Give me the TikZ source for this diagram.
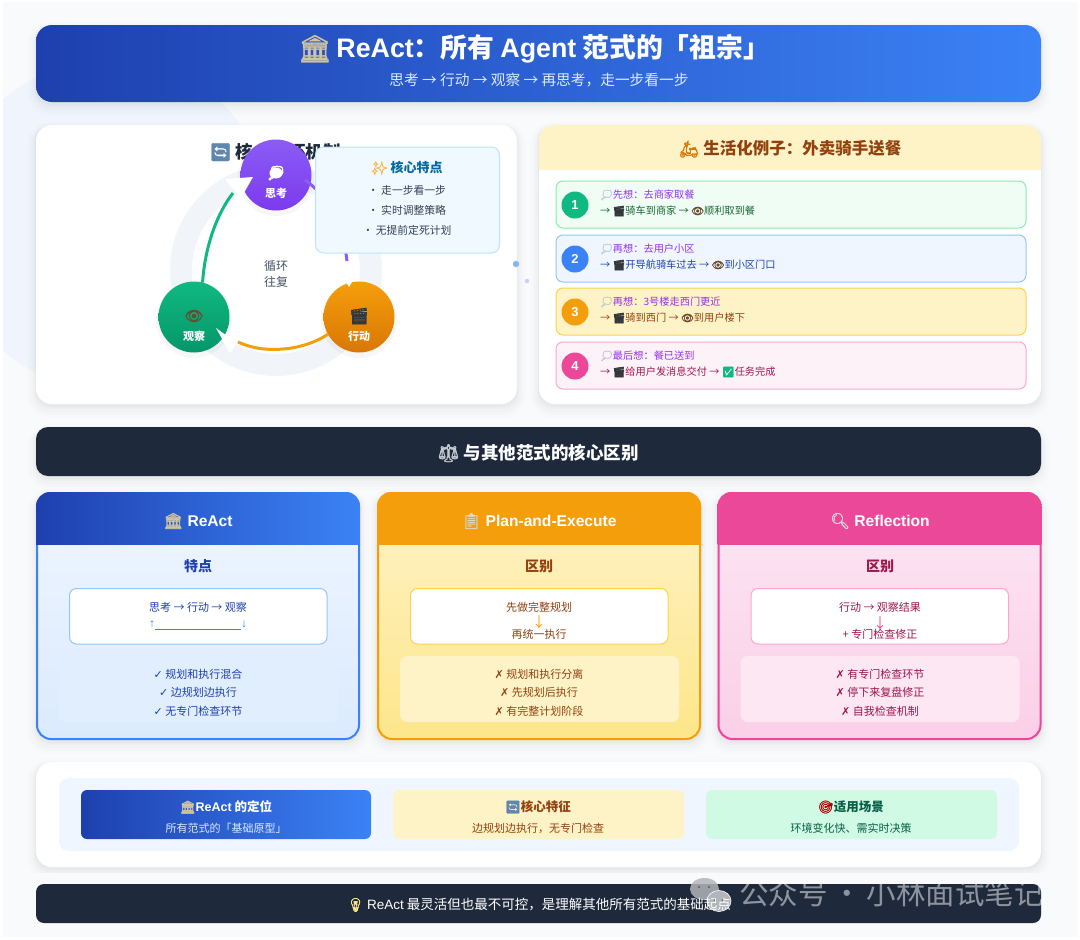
\documentclass[tikz,border=0pt]{standalone}
\usepackage{fontspec}
\setmainfont{Noto Sans CJK SC}
\newfontfamily\latf{Liberation Sans}
\newfontfamily\symf{DejaVu Sans}
\newfontfamily\emof[FakeBold=1.6]{Noto Emoji}
\newfontfamily\emofat[FakeBold=5]{Noto Emoji}
\usetikzlibrary{calc}
\definecolor{pagebg}{HTML}{F8FAFC}
\definecolor{blobbg}{HTML}{F0F5FD}
\definecolor{navy}{HTML}{1E40AF}
\definecolor{sky}{HTML}{3B82F6}
\definecolor{slatebar}{HTML}{1E293B}
\definecolor{ringgray}{HTML}{F1F5F9}
\definecolor{violetA}{HTML}{8B5CF6}
\definecolor{violetB}{HTML}{7C3AED}
\definecolor{greenA}{HTML}{10B981}
\definecolor{greenB}{HTML}{059669}
\definecolor{amberA}{HTML}{F59E0B}
\definecolor{amberB}{HTML}{D97706}
\definecolor{pinkA}{HTML}{EC4899}
\definecolor{creamA}{HTML}{FEF3C7}
\definecolor{creamB}{HTML}{FDE68A}
\definecolor{brownT}{HTML}{92400E}
\definecolor{roseT}{HTML}{9D174D}
\definecolor{roseA}{HTML}{FCE7F3}
\definecolor{roseB}{HTML}{FBCFE8}
\definecolor{iceA}{HTML}{EFF6FF}
\definecolor{iceB}{HTML}{DBEAFE}
\definecolor{edgeB}{HTML}{93C5FD}
\definecolor{edgeY}{HTML}{FCD34D}
\definecolor{edgeP}{HTML}{F9A8D4}
\definecolor{edgeG}{HTML}{86EFAC}
\definecolor{mintA}{HTML}{F0FDF4}
\definecolor{mintB}{HTML}{D1FAE5}
\definecolor{mintT}{HTML}{065F46}
\definecolor{leafT}{HTML}{166534}
\definecolor{blushA}{HTML}{FDF2F8}
\definecolor{thinkT}{HTML}{9333EA}
\definecolor{bubbleC}{HTML}{C4CAD2}
\definecolor{reelC}{HTML}{33363B}
\definecolor{eyeC}{HTML}{6B4A2B}
\definecolor{templeC}{HTML}{CFC4A0}
\definecolor{cycleC}{HTML}{5F86AE}
\definecolor{calloutF}{HTML}{F0F9FF}
\definecolor{calloutE}{HTML}{BAE6FD}
\definecolor{calloutT}{HTML}{0369A1}
\definecolor{inkT}{HTML}{334155}
\definecolor{midT}{HTML}{475569}
\definecolor{markC}{HTML}{B2B5BA}
\newcommand{\emo}[2]{{\normalfont\emof\color{#1}#2}}
\newcommand{\fsize}[1]{\fontsize{#1}{#1}\selectfont}
\def\softshadow(#1,#2)(#3,#4){
	\fill[black,opacity=.008,rounded corners=22pt] (#1-9,#2-3) rectangle (#3+9,#4+14);
	\fill[black,opacity=.010,rounded corners=20pt] (#1-6,#2-1) rectangle (#3+6,#4+11);
	\fill[black,opacity=.012,rounded corners=18pt] (#1-4,#2) rectangle (#3+4,#4+8);
	\fill[black,opacity=.016,rounded corners=16pt] (#1-2,#2+1) rectangle (#3+2,#4+5);
	\fill[black,opacity=.020,rounded corners=16pt] (#1-1,#2+1) rectangle (#3+1,#4+3);
}
\newcommand{\patterncard}[8]{
	\softshadow(#1,492)(#1+324,740)
	\shade[top color=#4,bottom color=#5,rounded corners=14pt] (#1,492) rectangle (#1+324,740);
	\draw[#6,line width=2pt,rounded corners=14pt] (#1+1,493) rectangle (#1+323,739);
	\begin{scope}
		\clip[rounded corners=14pt] (#1,492) rectangle (#1+324,740);
		\shade[left color=#2,right color=#3] (#1,492) rectangle (#1+324,544);
	\end{scope}
	\draw[#7,fill=white,line width=1pt,rounded corners=7pt] (#1+33.5,588.5) rectangle (#1+291,644);
	\fill[#8,rounded corners=7pt] (#1+23,656) rectangle (#1+302,722);
}
\newcommand{\deliverrow}[4]{
	\draw[#3,fill=#2,line width=1pt,rounded corners=7pt] (556,#1) rectangle (1026,#1+47);
	\node[numdot,fill=#4] (dot#1) at (575,#1+24) {};
}
\tikzset{
	plain/.style={inner sep=0pt,outer sep=0pt},
	stepdisc/.style={circle,minimum size=71pt,inner sep=0pt,outer sep=0pt,shading=axis},
	numdot/.style={circle,minimum size=27pt,inner sep=0pt,outer sep=0pt},
	numtext/.style={plain,text=white,font=\latf\bfseries\fsize{13}},
	steptext/.style={plain,text=white,font=\bfseries\fsize{11}},
	rowtext/.style={plain,anchor=west,font=\fsize{10.2}},
	cardtitle/.style={plain,text=white,font=\latf\bfseries\fsize{15.6}},
	cardhead/.style={plain,font=\bfseries\fsize{14}},
	cardtext/.style={plain,font=\fsize{11}},
	tailtitle/.style={plain,font=\bfseries\fsize{12.5}},
	tailtext/.style={plain,font=\fsize{11}},
}
\begin{document}
\begin{tikzpicture}[x=1pt,y=-1pt]
	\useasboundingbox (0,0) rectangle (1080,940);
	%%%%% BACKGROUND %%%%%
	\fill[white] (0,0) rectangle (1080,940);
	\begin{scope}
		\clip (3,2) rectangle (1077,936);
		\fill[pagebg] (0,0) rectangle (1080,940);
		\fill[blobbg] (110,225) circle (165);
	\end{scope}

	%%%%% HEADER %%%%%
	\softshadow(36,25)(1041,102)
	\shade[left color=navy,right color=sky,rounded corners=16pt] (36,25) rectangle (1041,102);
	\node[plain,text=white,font=\bfseries\fsize{26.8}] (maintitle) at (534,49) {\emo{templeC}{🏛}\,{\latf ReAct}：所有 {\latf Agent} 范式的「祖宗」};
	\node[plain,text=iceB,font=\fsize{14.7}] (mainsub) at (539,80) {思考 → 行动 → 观察 → 再思考，走一步看一步};

	%%%%% LOOP CARD %%%%%
	\softshadow(36,125)(517,404)
	\fill[white,rounded corners=16pt] (36,125) rectangle (517,404);
	\node[plain,text=slatebar,font=\bfseries\fsize{17.5}] (looptitle) at (275,152) {\emo{cycleC}{🔄} 核心循环机制};
	\draw[ringgray,line width=22pt] (276,270) circle (95);
	\node[plain,text=midT,font=\fsize{12}] (loopa) at (276,266) {循环};
	\node[plain,text=midT,font=\fsize{12}] (loopb) at (276,282) {往复};

	\fill[black,opacity=.03] (276,178) circle (38);
	\fill[black,opacity=.03] (194,320) circle (38);
	\fill[black,opacity=.03] (359,320) circle (38);
	\node[stepdisc,top color=violetA,bottom color=violetB] (think) at (276,175) {};
	\node[stepdisc,top color=greenA,bottom color=greenB] (observe) at (194,317) {};
	\node[stepdisc,top color=amberA,bottom color=amberB] (act) at (359,317) {};
	\fill[white] (276,173) ellipse (6.5 and 5.5);
	\node[plain,text=white,font=\emofat\fsize{14}] (thinkicon) at (276,173) {💭};
	\node[steptext] (thinklabel) at (276,193) {思考};
	\node[plain,font=\fsize{15}] (observeicon) at (194,316) {\emo{eyeC}{👁}};
	\node[steptext] (observelabel) at (194,336) {观察};
	\node[plain,font=\fsize{16}] (acticon) at (359,316) {\emo{reelC}{🎬}};
	\node[steptext] (actlabel) at (359,336) {行动};

	\coordinate (greentip) at (233,193);
	\coordinate (ambertip) at (238,342);
	\coordinate (violetstart) at (305,180);
	\coordinate (violettip) at (347,261);
	\fill[white] (225,179) -- (253,177) -- (241,198) -- cycle;
	\fill[white] (216,328) -- (237,343) -- (230,353) -- cycle;
	\fill[white] (346,282) -- (352,282) -- (349,287) -- cycle;
	\draw[greenA,line width=3pt] (observe.76) .. controls (205,245) and (218,212) .. (greentip);
	\draw[amberA,line width=3pt] (act.209) .. controls (305,350) and (265,355) .. (ambertip);
	\draw[violetA,line width=3pt] (violetstart) .. controls (330,197) and (344,232) .. (violettip);

	\draw[calloutE,fill=calloutF,line width=1pt,rounded corners=8pt] (315.5,147) rectangle (499.5,253);
	\node[plain,text=calloutT,font=\bfseries\fsize{13}] (calloutname) at (407,168) {\emo{amberA!70!white}{✨} 核心特点};
	\node[plain,text=inkT,font=\fsize{10.8}] (calloutone) at (407,190) {• 走一步看一步};
	\node[plain,text=inkT,font=\fsize{10.8}] (callouttwo) at (407,210) {• 实时调整策略};
	\node[plain,text=inkT,font=\fsize{10.8}] (calloutthree) at (407,230) {• 无提前定死计划};
	\fill[sky!60!white] (516,264) circle (3.2);
	\fill[violetA!35!white] (527,281) circle (2.2);

	%%%%% COURIER CARD %%%%%
	\softshadow(539,125)(1041,404)
	\fill[white,rounded corners=16pt] (539,125) rectangle (1041,404);
	\begin{scope}
		\clip[rounded corners=16pt] (539,125) rectangle (1041,404);
		\fill[creamA] (539,125) rectangle (1041,170);
	\end{scope}
	\node[plain,text=brownT,font=\bfseries\fsize{16.5}] (couriertitle) at (790,149) {\emo{amberB}{🛵} 生活化例子：外卖骑手送餐};

	\deliverrow{181}{mintA}{edgeG}{greenA}
	\deliverrow{235}{iceA}{edgeB}{sky}
	\deliverrow{288}{creamA}{edgeY}{amberA}
	\deliverrow{342}{blushA}{edgeP}{pinkA}
	\node[numtext] (numone) at (575,205) {1};
	\node[numtext] (numtwo) at (575,259) {2};
	\node[numtext] (numthree) at (575,312) {3};
	\node[numtext] (numfour) at (575,366) {4};
	\node[rowtext,text=thinkT] (rowonea) at (600,195) {\emo{bubbleC}{💭}先想：去商家取餐};
	\node[rowtext,text=leafT] (rowoneb) at (600,211) {→ \emo{reelC}{🎬}骑车到商家 → \emo{eyeC}{👁}顺利取到餐};
	\node[rowtext,text=thinkT] (rowtwoa) at (600,249) {\emo{bubbleC}{💭}再想：去用户小区};
	\node[rowtext,text=navy] (rowtwob) at (600,265) {→ \emo{reelC}{🎬}开导航骑车过去 → \emo{eyeC}{👁}到小区门口};
	\node[rowtext,text=thinkT] (rowthreea) at (600,302) {\emo{bubbleC}{💭}再想：3号楼走西门更近};
	\node[rowtext,text=brownT] (rowthreeb) at (600,318) {→ \emo{reelC}{🎬}骑到西门 → \emo{eyeC}{👁}到用户楼下};
	\node[rowtext,text=thinkT] (rowfoura) at (600,356) {\emo{bubbleC}{💭}最后想：餐已送到};
	\node[rowtext,text=roseT] (rowfourb) at (600,372) {→ \emo{reelC}{🎬}给用户发消息交付 → \emo{greenA}{✅}任务完成};

	%%%%% SECTION BAR %%%%%
	\softshadow(36,427)(1041,476)
	\fill[slatebar,rounded corners=12pt] (36,427) rectangle (1041,476);
	\node[plain,text=white,font=\bfseries\fsize{17.5}] (barname) at (538,453) {\emo{bubbleC}{⚖} 与其他范式的核心区别};

	%%%%% THREE CARDS %%%%%
	\patterncard{36}{navy}{sky}{iceA}{iceB}{sky}{edgeB}{iceB!70!iceA}
	\patterncard{377}{amberA}{amberA}{creamA}{creamB}{amberA}{edgeY}{creamA}
	\patterncard{717.5}{pinkA}{pinkA}{roseA}{roseB}{pinkA}{edgeP}{roseA}

	\node[cardtitle] (reacttitle) at (198,521) {\emo{templeC}{🏛} ReAct};
	\node[cardhead,text=navy] (reacthead) at (198,566) {特点};
	\node[cardtext,text=navy] (reactflow) at (198,607) {思考 → 行动 → 观察};
	\node[plain,text=sky,font=\latf\fsize{12}] (reactback) at (198,625) {↑\rule[-2pt]{86pt}{.7pt}↓};
	\node[cardtext,text=navy] (reactone) at (198,674) {{\symf\bfseries ✓} 规划和执行混合};
	\node[cardtext,text=navy] (reacttwo) at (198,692) {{\symf\bfseries ✓} 边规划边执行};
	\node[cardtext,text=navy] (reactthree) at (198,711) {{\symf\bfseries ✓} 无专门检查环节};

	\node[cardtitle] (plantitle) at (539,521) {\emo{white!85!black}{📋} Plan-and-Execute};
	\node[cardhead,text=brownT] (planhead) at (539,566) {区别};
	\node[cardtext,text=brownT] (planfirst) at (539,607) {先做完整规划};
	\node[plain,text=amberA,font=\fsize{14}] (plandown) at (539,622) {↓};
	\node[cardtext,text=brownT] (plansecond) at (539,634) {再统一执行};
	\node[cardtext,text=brownT] (planone) at (539,674) {{\symf\bfseries ✗} 规划和执行分离};
	\node[cardtext,text=brownT] (plantwo) at (539,692) {{\symf\bfseries ✗} 先规划后执行};
	\node[cardtext,text=brownT] (planthree) at (539,711) {{\symf\bfseries ✗} 有完整计划阶段};

	\node[cardtitle] (reflecttitle) at (880,521) {\emo{white!85!black}{🔍} Reflection};
	\node[cardhead,text=roseT] (reflecthead) at (880,566) {区别};
	\node[cardtext,text=roseT] (reflectfirst) at (880,607) {行动 → 观察结果};
	\node[plain,text=pinkA,font=\fsize{14}] (reflectdown) at (880,623) {↓};
	\node[cardtext,text=roseT] (reflectsecond) at (880,634) {+ 专门检查修正};
	\node[cardtext,text=roseT] (reflectone) at (880,674) {{\symf\bfseries ✗} 有专门检查环节};
	\node[cardtext,text=roseT] (reflecttwo) at (880,692) {{\symf\bfseries ✗} 停下来复盘修正};
	\node[cardtext,text=roseT] (reflectthree) at (880,711) {{\symf\bfseries ✗} 自我检查机制};

	%%%%% SUMMARY %%%%%
	\softshadow(36,762)(1041,867)
	\fill[white,rounded corners=16pt] (36,762) rectangle (1041,867);
	\fill[iceA,rounded corners=10pt] (59,778) rectangle (1019,851);
	\shade[left color=navy,right color=sky,rounded corners=6pt] (81,790) rectangle (371,839);
	\fill[creamA,rounded corners=6pt] (393,790) rectangle (684,839);
	\fill[mintB,rounded corners=6pt] (706,790) rectangle (997,839);
	\node[tailtitle,text=white] (placename) at (226,807) {\emo{templeC}{🏛}{\latf ReAct} 的定位};
	\node[tailtext,text=iceB] (placetext) at (226,828) {所有范式的「基础原型」};
	\node[tailtitle,text=brownT] (corename) at (538,807) {\emo{cycleC}{🔄}核心特征};
	\node[tailtext,text=brownT] (coretext) at (538,828) {边规划边执行，无专门检查};
	\node[tailtitle,text=mintT] (usename) at (851,807) {\emo{red!70!black}{🎯}适用场景};
	\node[tailtext,text=mintT] (usetext) at (851,828) {环境变化快、需实时决策};

	%%%%% FOOT BAR %%%%%
	\fill[pagebg] (3,873) rectangle (1077,884);
	\fill[slatebar,rounded corners=8pt] (36,884) rectangle (1041,923);

	%%%%% WATERMARK %%%%%
	\fill[markC,opacity=.85] (704.5,889) ellipse (14.5 and 11);
	\draw[white,fill=markC,line width=.6pt] (719,901) ellipse (12 and 10.5);
	\fill[slatebar!70!white] (699,887) circle (1.4) (709,887) circle (1.4) (715,900) circle (1.3) (723,900) circle (1.3);
	\begin{scope}
		\clip (680,870) rectangle (1041,925);
		\node[plain,anchor=west,text=white,opacity=.5,font=\fsize{29.5}] (markline) at (739,893) {公众号\,·\,小林面试笔记};
	\end{scope}
	\node[plain,text=white,font=\fsize{13.5}] (footline) at (539,905) {\emo{creamB}{💡} {\latf ReAct} 最灵活但也最不可控，是理解其他所有范式的基础起点};
\end{tikzpicture}
\end{document}
